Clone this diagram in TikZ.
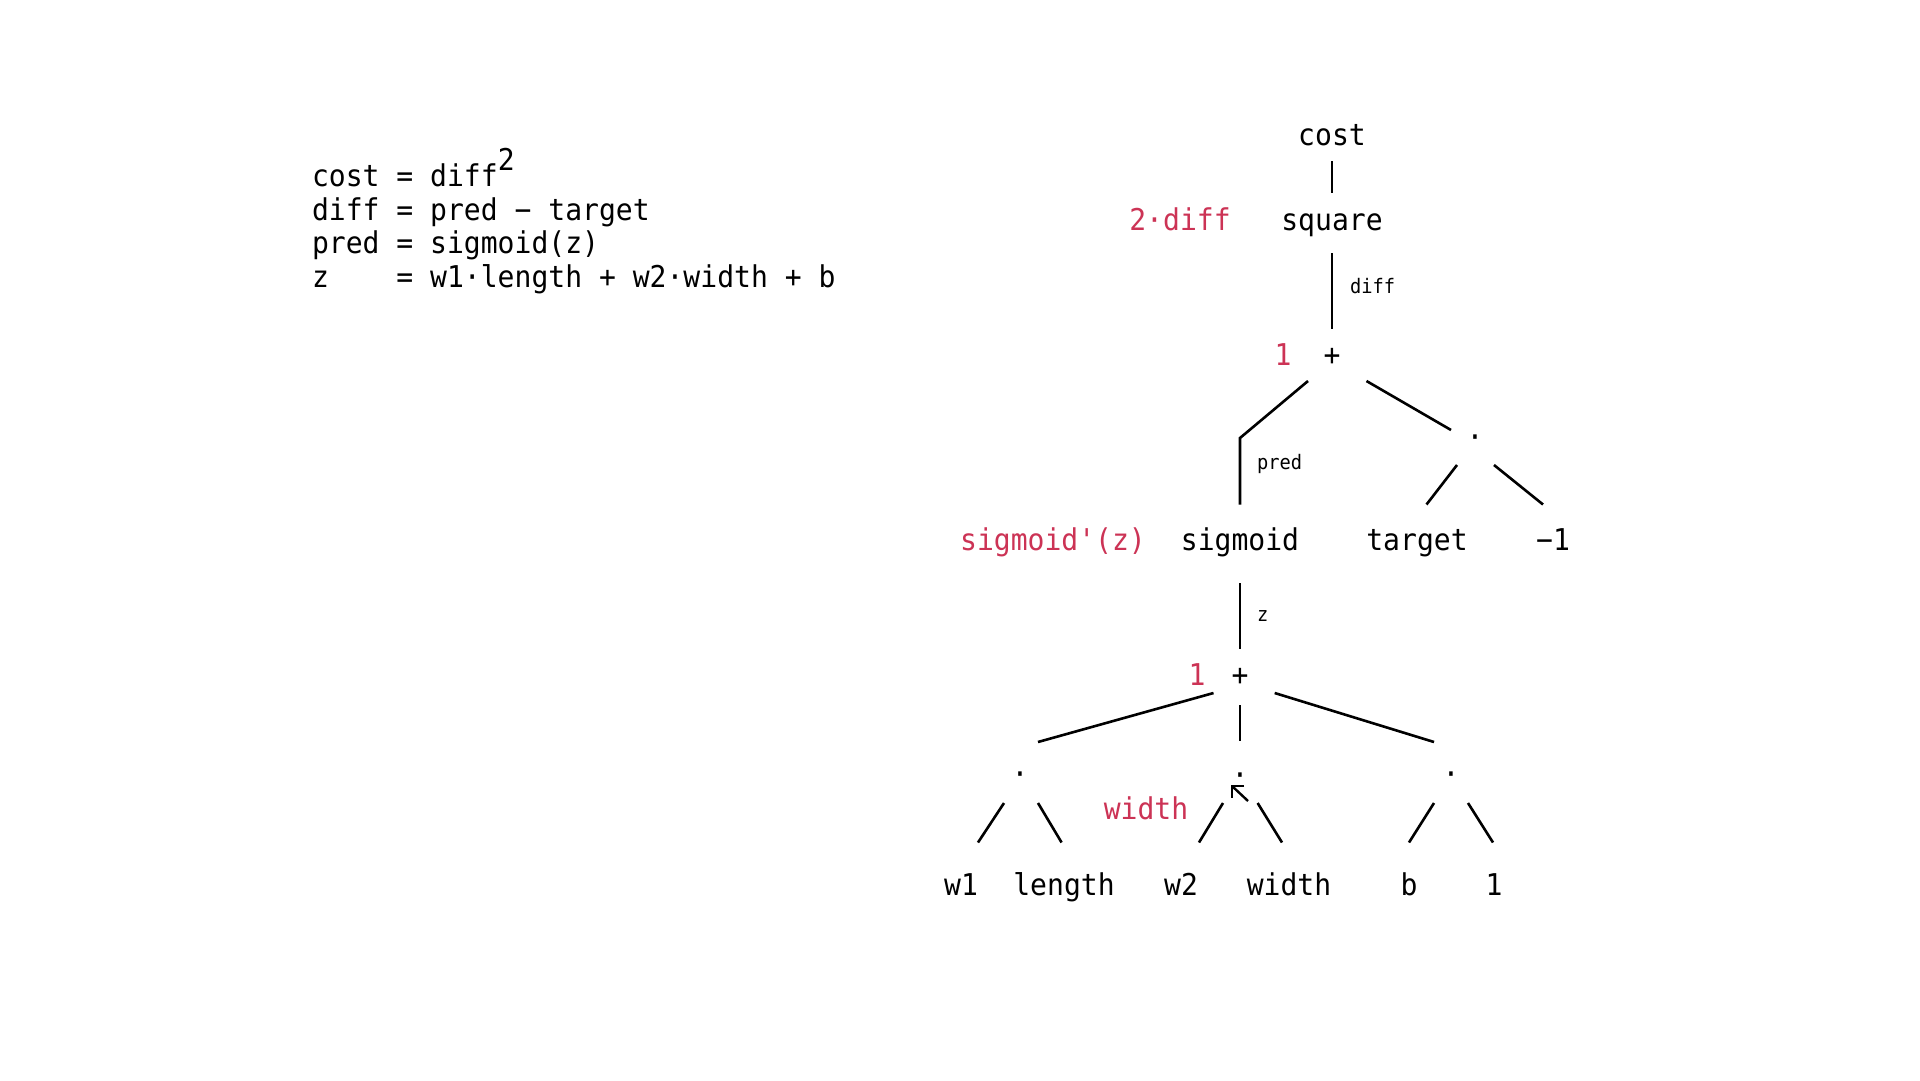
\documentclass[tikz,border=0pt]{standalone}
\usepackage{fontspec}
\newfontfamily\codefont{DejaVu Sans Mono}[FakeStretch=0.935]
\definecolor{gradred}{RGB}{204,51,85}
\tikzset{
  every node/.style={inner sep=0pt, outer sep=0pt},
  term/.style={anchor=base, font=\codefont\fontsize{30}{36}\selectfont},
  grad/.style={term, text=gradred},
  edgelbl/.style={anchor=base west, font=\codefont\fontsize{20}{24}\selectfont},
  eqline/.style={anchor=base west, font=\codefont\fontsize{30}{36}\selectfont},
  wire/.style={line width=2.6pt, black},
}
% connector between two named nodes, each end offset from the node's base point
\newcommand\link[4]{\draw[wire] ([shift={(#2)}]#1.base) -- ([shift={(#4)}]#3.base);}
\begin{document}
\begin{tikzpicture}[x=1pt, y=-1pt]
\useasboundingbox[fill=white] (0,0) rectangle (1920,1080);

% equations
\node[eqline] (eq1) at (312,186) {cost = diff\raisebox{16pt}{2}};
\node[eqline] (eq2) at (312,220) {diff = pred − target};
\node[eqline] (eq3) at (312,253) {pred = sigmoid(z)};
\node[eqline] (eq4) at (312,287) {z\phantom{xxx} = w1·length + w2·width + b};

% expression tree
\node[term] (cost) at (1332,145) {cost};
\node[term] (square) at (1332,230) {square};
\node[grad] (gsquare) at (1180,230) {2·diff};
\node[term] (plusA) at (1332,365) {+};
\node[grad] (gplusA) at (1283,365) {1};
\node[term] (dotA) at (1475,447) {·};
\node[term] (sigmoid) at (1240,550) {sigmoid};
\node[grad] (gsigmoid) at (1053,550) {sigmoid\char"27(z)};
\node[term] (target) at (1417,550) {target};
\node[term] (minus) at (1553,550) {−1};
\node[term] (plusB) at (1240,685) {+};
\node[grad] (gplusB) at (1197,685) {1};
\node[term] (dot1) at (1020,784) {·};
\node[term] (dot2) at (1240,785) {·};
\node[term] (dot3) at (1451,784) {·};
\node[grad] (gdot2) at (1146,819) {width};
\node[term] (w1) at (961,895) {w1};
\node[term] (length) at (1064,895) {length};
\node[term] (w2) at (1181,895) {w2};
\node[term] (width) at (1289,895) {width};
\node[term] (b) at (1409,895) {b};
\node[term] (one) at (1494,895) {1};

% edge labels
\node[edgelbl] (ldiff) at (1350,293) {diff};
\node[edgelbl] (lpred) at (1257,469) {pred};
\node[edgelbl] (lz) at (1257,621) {z};

% connectors
\coordinate (bend) at (1240,438);
\link{cost}{0,16}{square}{0,-37}
\link{square}{0,23}{plusA}{0,-36}
\draw[wire] ([shift={(-24,16)}]plusA.base) -- (bend) -- ([shift={(0,-45.5)}]sigmoid.base);
\link{plusA}{34.5,16}{dotA}{-24,-17}
\link{dotA}{-18,18}{target}{9.5,-45.5}
\link{dotA}{19,18}{minus}{-10,-45.5}
\link{sigmoid}{0,33}{plusB}{0,-36}
\link{plusB}{-26.5,8}{dot1}{18,-42}
\link{plusB}{0,20}{dot2}{0,-44}
\link{plusB}{34.7,8}{dot3}{-17,-42}
\link{dot1}{-16,19}{w1}{17,-52.5}
\link{dot1}{18,19}{length}{-2.4,-52.5}
\link{dot2}{-17,18}{w2}{18,-52.5}
\link{dot2}{17.6,18}{width}{-7,-52.5}
\link{dot3}{-17,19}{b}{0,-52.5}
\link{dot3}{17,19}{one}{-1,-52.5}

% pointer arrow under the middle product
\coordinate (tip) at (1232,786);
\draw[wire, line width=2.4pt] (tip) -- ++(16,15);
\draw[wire, line width=2.4pt] ([xshift=12pt]tip) -- (tip) -- ([yshift=-12pt]tip);
\end{tikzpicture}
\end{document}
